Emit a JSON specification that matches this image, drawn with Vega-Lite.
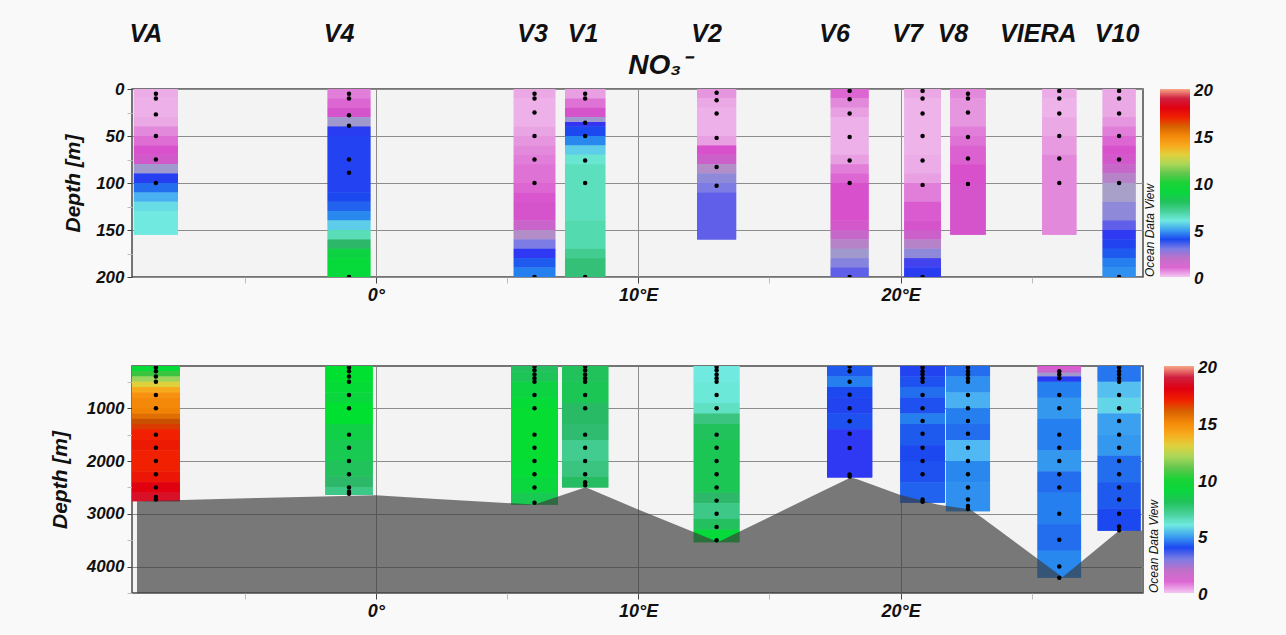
{
  "$schema": "https://vega.github.io/schema/vega-lite/v6.json",
  "background": "#f9f9f9",
  "padding": {"left": 48, "top": 21, "right": 80, "bottom": 14},
  "config": {
    "font": "Liberation Sans",
    "view": {"fill": "#f3f3f3", "stroke": "#4a4a4a", "strokeWidth": 1.5},
    "axis": {
      "domain": false,
      "labelOverlap": false,
      "labelFont": "Liberation Sans",
      "labelFontWeight": "bold",
      "labelFontStyle": "italic",
      "labelColor": "#111111",
      "titleFont": "Liberation Sans",
      "titleFontSize": 21,
      "titleFontWeight": "bold",
      "titleFontStyle": "italic",
      "titleColor": "#111111",
      "gridColor": "#8c8c8c",
      "gridWidth": 1
    },
    "legend": {
      "labelFont": "Liberation Sans",
      "labelFontSize": 17,
      "labelFontWeight": "bold",
      "labelFontStyle": "italic",
      "labelColor": "#111111",
      "labelOverlap": false,
      "titleFont": "Liberation Sans",
      "titleFontSize": 12,
      "titleFontWeight": "normal",
      "titleFontStyle": "italic",
      "titleColor": "#111111"
    }
  },
  "datasets": {
    "stations": [
      {"s": "VA", "lon": -8.38}, {"s": "V4", "lon": -1.02}, {"s": "V3", "lon": 6.05},
      {"s": "V1", "lon": 7.98}, {"s": "V2", "lon": 12.99}, {"s": "V6", "lon": 18.06},
      {"s": "V7", "lon": 20.84}, {"s": "V8", "lon": 22.57}, {"s": "VIERA", "lon": 26.05},
      {"s": "V10", "lon": 28.33}
    ],
    "top_cells": [
      {"s": "VA", "d0": 0, "d1": 10, "v": 0.35}, {"s": "VA", "d0": 10, "d1": 30, "v": 0.3},
      {"s": "VA", "d0": 30, "d1": 40, "v": 0.4}, {"s": "VA", "d0": 40, "d1": 50, "v": 0.7},
      {"s": "VA", "d0": 50, "d1": 60, "v": 0.95}, {"s": "VA", "d0": 60, "d1": 70, "v": 1.2},
      {"s": "VA", "d0": 70, "d1": 80, "v": 1.45}, {"s": "VA", "d0": 80, "d1": 90, "v": 2.6},
      {"s": "VA", "d0": 90, "d1": 100, "v": 3.8}, {"s": "VA", "d0": 100, "d1": 110, "v": 4.4},
      {"s": "VA", "d0": 110, "d1": 120, "v": 5.2}, {"s": "VA", "d0": 120, "d1": 130, "v": 5.8},
      {"s": "VA", "d0": 130, "d1": 155, "v": 6.0},

      {"s": "V4", "d0": 0, "d1": 10, "v": 0.8}, {"s": "V4", "d0": 10, "d1": 20, "v": 1.0},
      {"s": "V4", "d0": 20, "d1": 30, "v": 1.3}, {"s": "V4", "d0": 30, "d1": 40, "v": 2.6},
      {"s": "V4", "d0": 40, "d1": 50, "v": 3.7}, {"s": "V4", "d0": 50, "d1": 110, "v": 3.85},
      {"s": "V4", "d0": 110, "d1": 120, "v": 4.0}, {"s": "V4", "d0": 120, "d1": 130, "v": 4.3},
      {"s": "V4", "d0": 130, "d1": 140, "v": 4.7}, {"s": "V4", "d0": 140, "d1": 150, "v": 5.6},
      {"s": "V4", "d0": 150, "d1": 160, "v": 6.6}, {"s": "V4", "d0": 160, "d1": 170, "v": 7.6},
      {"s": "V4", "d0": 170, "d1": 180, "v": 8.8}, {"s": "V4", "d0": 180, "d1": 200, "v": 9.2},

      {"s": "V3", "d0": 0, "d1": 10, "v": 0.4}, {"s": "V3", "d0": 10, "d1": 40, "v": 0.3},
      {"s": "V3", "d0": 40, "d1": 50, "v": 0.45}, {"s": "V3", "d0": 50, "d1": 60, "v": 0.6},
      {"s": "V3", "d0": 60, "d1": 70, "v": 0.7}, {"s": "V3", "d0": 70, "d1": 80, "v": 0.8},
      {"s": "V3", "d0": 80, "d1": 100, "v": 0.9}, {"s": "V3", "d0": 100, "d1": 110, "v": 1.0},
      {"s": "V3", "d0": 110, "d1": 120, "v": 1.15}, {"s": "V3", "d0": 120, "d1": 140, "v": 1.3},
      {"s": "V3", "d0": 140, "d1": 150, "v": 1.7}, {"s": "V3", "d0": 150, "d1": 160, "v": 2.3},
      {"s": "V3", "d0": 160, "d1": 170, "v": 3.0}, {"s": "V3", "d0": 170, "d1": 180, "v": 3.6},
      {"s": "V3", "d0": 180, "d1": 190, "v": 4.2}, {"s": "V3", "d0": 190, "d1": 200, "v": 4.6},

      {"s": "V1", "d0": 0, "d1": 10, "v": 0.5}, {"s": "V1", "d0": 10, "d1": 20, "v": 0.9},
      {"s": "V1", "d0": 20, "d1": 30, "v": 1.3}, {"s": "V1", "d0": 30, "d1": 35, "v": 2.6},
      {"s": "V1", "d0": 35, "d1": 40, "v": 3.5}, {"s": "V1", "d0": 40, "d1": 50, "v": 4.0},
      {"s": "V1", "d0": 50, "d1": 60, "v": 4.7}, {"s": "V1", "d0": 60, "d1": 70, "v": 5.6},
      {"s": "V1", "d0": 70, "d1": 80, "v": 6.2}, {"s": "V1", "d0": 80, "d1": 140, "v": 6.5},
      {"s": "V1", "d0": 140, "d1": 170, "v": 6.7}, {"s": "V1", "d0": 170, "d1": 180, "v": 7.1},
      {"s": "V1", "d0": 180, "d1": 200, "v": 7.4},

      {"s": "V2", "d0": 0, "d1": 10, "v": 0.6}, {"s": "V2", "d0": 10, "d1": 20, "v": 0.4},
      {"s": "V2", "d0": 20, "d1": 50, "v": 0.3}, {"s": "V2", "d0": 50, "d1": 60, "v": 0.5},
      {"s": "V2", "d0": 60, "d1": 70, "v": 1.2}, {"s": "V2", "d0": 70, "d1": 80, "v": 1.6},
      {"s": "V2", "d0": 80, "d1": 90, "v": 2.3}, {"s": "V2", "d0": 90, "d1": 100, "v": 2.8},
      {"s": "V2", "d0": 100, "d1": 110, "v": 3.0}, {"s": "V2", "d0": 110, "d1": 160, "v": 3.2},

      {"s": "V6", "d0": 0, "d1": 10, "v": 1.0}, {"s": "V6", "d0": 10, "d1": 20, "v": 0.7},
      {"s": "V6", "d0": 20, "d1": 30, "v": 0.5}, {"s": "V6", "d0": 30, "d1": 70, "v": 0.3},
      {"s": "V6", "d0": 70, "d1": 80, "v": 0.5}, {"s": "V6", "d0": 80, "d1": 90, "v": 0.8},
      {"s": "V6", "d0": 90, "d1": 100, "v": 1.0}, {"s": "V6", "d0": 100, "d1": 140, "v": 1.2},
      {"s": "V6", "d0": 140, "d1": 150, "v": 1.4}, {"s": "V6", "d0": 150, "d1": 160, "v": 1.8},
      {"s": "V6", "d0": 160, "d1": 170, "v": 2.2}, {"s": "V6", "d0": 170, "d1": 180, "v": 2.6},
      {"s": "V6", "d0": 180, "d1": 190, "v": 2.9}, {"s": "V6", "d0": 190, "d1": 200, "v": 3.2},

      {"s": "V7", "d0": 0, "d1": 10, "v": 0.4}, {"s": "V7", "d0": 10, "d1": 70, "v": 0.25},
      {"s": "V7", "d0": 70, "d1": 90, "v": 0.35}, {"s": "V7", "d0": 90, "d1": 100, "v": 0.5},
      {"s": "V7", "d0": 100, "d1": 120, "v": 0.8}, {"s": "V7", "d0": 120, "d1": 140, "v": 1.1},
      {"s": "V7", "d0": 140, "d1": 150, "v": 1.3}, {"s": "V7", "d0": 150, "d1": 160, "v": 1.6},
      {"s": "V7", "d0": 160, "d1": 170, "v": 2.2}, {"s": "V7", "d0": 170, "d1": 180, "v": 2.8},
      {"s": "V7", "d0": 180, "d1": 190, "v": 3.4}, {"s": "V7", "d0": 190, "d1": 200, "v": 3.7},

      {"s": "V8", "d0": 0, "d1": 10, "v": 0.7}, {"s": "V8", "d0": 10, "d1": 40, "v": 0.6},
      {"s": "V8", "d0": 40, "d1": 50, "v": 0.8}, {"s": "V8", "d0": 50, "d1": 60, "v": 0.9},
      {"s": "V8", "d0": 60, "d1": 80, "v": 1.05}, {"s": "V8", "d0": 80, "d1": 100, "v": 1.2},
      {"s": "V8", "d0": 100, "d1": 155, "v": 1.3},

      {"s": "VIERA", "d0": 0, "d1": 10, "v": 0.35}, {"s": "VIERA", "d0": 10, "d1": 30, "v": 0.25},
      {"s": "VIERA", "d0": 30, "d1": 50, "v": 0.4}, {"s": "VIERA", "d0": 50, "d1": 70, "v": 0.55},
      {"s": "VIERA", "d0": 70, "d1": 155, "v": 0.7},

      {"s": "V10", "d0": 0, "d1": 30, "v": 0.4}, {"s": "V10", "d0": 30, "d1": 40, "v": 0.6},
      {"s": "V10", "d0": 40, "d1": 50, "v": 0.8}, {"s": "V10", "d0": 50, "d1": 60, "v": 1.0},
      {"s": "V10", "d0": 60, "d1": 70, "v": 1.2}, {"s": "V10", "d0": 70, "d1": 80, "v": 1.4},
      {"s": "V10", "d0": 80, "d1": 90, "v": 1.8}, {"s": "V10", "d0": 90, "d1": 100, "v": 2.2},
      {"s": "V10", "d0": 100, "d1": 120, "v": 2.5}, {"s": "V10", "d0": 120, "d1": 140, "v": 2.8},
      {"s": "V10", "d0": 140, "d1": 150, "v": 3.2}, {"s": "V10", "d0": 150, "d1": 160, "v": 3.6},
      {"s": "V10", "d0": 160, "d1": 170, "v": 3.9}, {"s": "V10", "d0": 170, "d1": 180, "v": 4.2},
      {"s": "V10", "d0": 180, "d1": 190, "v": 4.6}, {"s": "V10", "d0": 190, "d1": 200, "v": 4.8}
    ],
    "top_samples": [
      {"s": "VA", "d": 5}, {"s": "VA", "d": 10}, {"s": "VA", "d": 27}, {"s": "VA", "d": 50}, {"s": "VA", "d": 75}, {"s": "VA", "d": 100},
      {"s": "V4", "d": 5}, {"s": "V4", "d": 10}, {"s": "V4", "d": 28}, {"s": "V4", "d": 39}, {"s": "V4", "d": 75}, {"s": "V4", "d": 89}, {"s": "V4", "d": 200},
      {"s": "V3", "d": 5}, {"s": "V3", "d": 10}, {"s": "V3", "d": 25}, {"s": "V3", "d": 50}, {"s": "V3", "d": 75}, {"s": "V3", "d": 100}, {"s": "V3", "d": 200},
      {"s": "V1", "d": 5}, {"s": "V1", "d": 10}, {"s": "V1", "d": 36}, {"s": "V1", "d": 50}, {"s": "V1", "d": 76}, {"s": "V1", "d": 100}, {"s": "V1", "d": 200},
      {"s": "V2", "d": 4}, {"s": "V2", "d": 12}, {"s": "V2", "d": 26}, {"s": "V2", "d": 52}, {"s": "V2", "d": 83}, {"s": "V2", "d": 103},
      {"s": "V6", "d": 2}, {"s": "V6", "d": 11}, {"s": "V6", "d": 26}, {"s": "V6", "d": 51}, {"s": "V6", "d": 76}, {"s": "V6", "d": 100}, {"s": "V6", "d": 200},
      {"s": "V7", "d": 2}, {"s": "V7", "d": 10}, {"s": "V7", "d": 26}, {"s": "V7", "d": 50}, {"s": "V7", "d": 76}, {"s": "V7", "d": 102}, {"s": "V7", "d": 200},
      {"s": "V8", "d": 5}, {"s": "V8", "d": 10}, {"s": "V8", "d": 25}, {"s": "V8", "d": 51}, {"s": "V8", "d": 74}, {"s": "V8", "d": 101},
      {"s": "VIERA", "d": 2}, {"s": "VIERA", "d": 10}, {"s": "VIERA", "d": 26}, {"s": "VIERA", "d": 50}, {"s": "VIERA", "d": 74}, {"s": "VIERA", "d": 100},
      {"s": "V10", "d": 2}, {"s": "V10", "d": 10}, {"s": "V10", "d": 26}, {"s": "V10", "d": 50}, {"s": "V10", "d": 75}, {"s": "V10", "d": 100}, {"s": "V10", "d": 200}
    ],
    "deep_cells": [
      {"s": "VA", "d0": 200, "d1": 300, "v": 9.3}, {"s": "VA", "d0": 300, "d1": 400, "v": 10.5},
      {"s": "VA", "d0": 400, "d1": 500, "v": 11.8}, {"s": "VA", "d0": 500, "d1": 600, "v": 13.0},
      {"s": "VA", "d0": 600, "d1": 700, "v": 14.0}, {"s": "VA", "d0": 700, "d1": 800, "v": 14.6},
      {"s": "VA", "d0": 800, "d1": 1000, "v": 15.0}, {"s": "VA", "d0": 1000, "d1": 1100, "v": 15.3},
      {"s": "VA", "d0": 1100, "d1": 1200, "v": 15.8}, {"s": "VA", "d0": 1200, "d1": 1300, "v": 16.3},
      {"s": "VA", "d0": 1300, "d1": 1400, "v": 16.6}, {"s": "VA", "d0": 1400, "d1": 1600, "v": 17.0},
      {"s": "VA", "d0": 1600, "d1": 1800, "v": 17.2}, {"s": "VA", "d0": 1800, "d1": 2200, "v": 17.0},
      {"s": "VA", "d0": 2200, "d1": 2400, "v": 17.3}, {"s": "VA", "d0": 2400, "d1": 2600, "v": 18.0},
      {"s": "VA", "d0": 2600, "d1": 2760, "v": 18.5},

      {"s": "V4", "d0": 200, "d1": 500, "v": 9.6}, {"s": "V4", "d0": 500, "d1": 700, "v": 9.3},
      {"s": "V4", "d0": 700, "d1": 900, "v": 9.0}, {"s": "V4", "d0": 900, "d1": 1300, "v": 9.6},
      {"s": "V4", "d0": 1300, "d1": 1600, "v": 8.6}, {"s": "V4", "d0": 1600, "d1": 2000, "v": 8.3},
      {"s": "V4", "d0": 2000, "d1": 2300, "v": 8.0}, {"s": "V4", "d0": 2300, "d1": 2500, "v": 7.6},
      {"s": "V4", "d0": 2500, "d1": 2645, "v": 7.2},

      {"s": "V3", "d0": 200, "d1": 300, "v": 7.9}, {"s": "V3", "d0": 300, "d1": 500, "v": 8.1},
      {"s": "V3", "d0": 500, "d1": 800, "v": 8.8}, {"s": "V3", "d0": 800, "d1": 1000, "v": 9.3},
      {"s": "V3", "d0": 1000, "d1": 2000, "v": 9.7}, {"s": "V3", "d0": 2000, "d1": 2300, "v": 9.4},
      {"s": "V3", "d0": 2300, "d1": 2600, "v": 9.0}, {"s": "V3", "d0": 2600, "d1": 2830, "v": 8.3},

      {"s": "V1", "d0": 200, "d1": 500, "v": 8.0}, {"s": "V1", "d0": 500, "d1": 900, "v": 8.2},
      {"s": "V1", "d0": 900, "d1": 1300, "v": 7.7}, {"s": "V1", "d0": 1300, "d1": 1600, "v": 7.5},
      {"s": "V1", "d0": 1600, "d1": 2000, "v": 7.1}, {"s": "V1", "d0": 2000, "d1": 2300, "v": 7.3},
      {"s": "V1", "d0": 2300, "d1": 2500, "v": 7.8},

      {"s": "V2", "d0": 200, "d1": 500, "v": 6.0}, {"s": "V2", "d0": 500, "d1": 900, "v": 6.1},
      {"s": "V2", "d0": 900, "d1": 1100, "v": 6.4}, {"s": "V2", "d0": 1100, "d1": 1300, "v": 7.3},
      {"s": "V2", "d0": 1300, "d1": 1600, "v": 8.0}, {"s": "V2", "d0": 1600, "d1": 2600, "v": 8.2},
      {"s": "V2", "d0": 2600, "d1": 2800, "v": 7.6}, {"s": "V2", "d0": 2800, "d1": 3100, "v": 7.2},
      {"s": "V2", "d0": 3100, "d1": 3300, "v": 7.9}, {"s": "V2", "d0": 3300, "d1": 3540, "v": 9.2},

      {"s": "V6", "d0": 200, "d1": 400, "v": 4.2}, {"s": "V6", "d0": 400, "d1": 600, "v": 4.6},
      {"s": "V6", "d0": 600, "d1": 800, "v": 4.0}, {"s": "V6", "d0": 800, "d1": 1100, "v": 3.9},
      {"s": "V6", "d0": 1100, "d1": 1400, "v": 4.1}, {"s": "V6", "d0": 1400, "d1": 2310, "v": 3.6},

      {"s": "V7", "d0": 200, "d1": 400, "v": 3.9}, {"s": "V7", "d0": 400, "d1": 600, "v": 4.1},
      {"s": "V7", "d0": 600, "d1": 800, "v": 4.4}, {"s": "V7", "d0": 800, "d1": 1100, "v": 4.1},
      {"s": "V7", "d0": 1100, "d1": 1300, "v": 4.6}, {"s": "V7", "d0": 1300, "d1": 1700, "v": 4.2},
      {"s": "V7", "d0": 1700, "d1": 2000, "v": 4.0}, {"s": "V7", "d0": 2000, "d1": 2400, "v": 4.1},
      {"s": "V7", "d0": 2400, "d1": 2790, "v": 4.3},

      {"s": "V8", "d0": 200, "d1": 400, "v": 4.4}, {"s": "V8", "d0": 400, "d1": 700, "v": 4.8},
      {"s": "V8", "d0": 700, "d1": 1000, "v": 5.2}, {"s": "V8", "d0": 1000, "d1": 1300, "v": 4.6},
      {"s": "V8", "d0": 1300, "d1": 1600, "v": 4.4}, {"s": "V8", "d0": 1600, "d1": 2000, "v": 5.3},
      {"s": "V8", "d0": 2000, "d1": 2400, "v": 4.7}, {"s": "V8", "d0": 2400, "d1": 2950, "v": 4.8},

      {"s": "VIERA", "d0": 200, "d1": 270, "v": 1.1}, {"s": "VIERA", "d0": 270, "d1": 330, "v": 1.8},
      {"s": "VIERA", "d0": 330, "d1": 400, "v": 2.6}, {"s": "VIERA", "d0": 400, "d1": 500, "v": 3.7},
      {"s": "VIERA", "d0": 500, "d1": 800, "v": 4.6}, {"s": "VIERA", "d0": 800, "d1": 1200, "v": 4.9},
      {"s": "VIERA", "d0": 1200, "d1": 1800, "v": 4.6}, {"s": "VIERA", "d0": 1800, "d1": 2200, "v": 4.9},
      {"s": "VIERA", "d0": 2200, "d1": 2600, "v": 4.4}, {"s": "VIERA", "d0": 2600, "d1": 3200, "v": 4.6},
      {"s": "VIERA", "d0": 3200, "d1": 3700, "v": 4.4}, {"s": "VIERA", "d0": 3700, "d1": 4210, "v": 4.7},

      {"s": "V10", "d0": 200, "d1": 500, "v": 4.5}, {"s": "V10", "d0": 500, "d1": 800, "v": 5.4},
      {"s": "V10", "d0": 800, "d1": 1100, "v": 5.7}, {"s": "V10", "d0": 1100, "d1": 1500, "v": 5.0},
      {"s": "V10", "d0": 1500, "d1": 1900, "v": 4.9}, {"s": "V10", "d0": 1900, "d1": 2400, "v": 4.4},
      {"s": "V10", "d0": 2400, "d1": 2900, "v": 4.2}, {"s": "V10", "d0": 2900, "d1": 3320, "v": 4.0}
    ],
    "deep_samples": [
      {"s": "VA", "d": 230}, {"s": "VA", "d": 300}, {"s": "VA", "d": 400}, {"s": "VA", "d": 500}, {"s": "VA", "d": 750}, {"s": "VA", "d": 1000}, {"s": "VA", "d": 1500}, {"s": "VA", "d": 1750}, {"s": "VA", "d": 2000}, {"s": "VA", "d": 2250}, {"s": "VA", "d": 2500}, {"s": "VA", "d": 2680}, {"s": "VA", "d": 2730},
      {"s": "V4", "d": 230}, {"s": "V4", "d": 300}, {"s": "V4", "d": 400}, {"s": "V4", "d": 500}, {"s": "V4", "d": 750}, {"s": "V4", "d": 1000}, {"s": "V4", "d": 1500}, {"s": "V4", "d": 1750}, {"s": "V4", "d": 2000}, {"s": "V4", "d": 2250}, {"s": "V4", "d": 2500}, {"s": "V4", "d": 2580}, {"s": "V4", "d": 2620},
      {"s": "V3", "d": 210}, {"s": "V3", "d": 280}, {"s": "V3", "d": 360}, {"s": "V3", "d": 430}, {"s": "V3", "d": 500}, {"s": "V3", "d": 750}, {"s": "V3", "d": 1000}, {"s": "V3", "d": 1500}, {"s": "V3", "d": 1750}, {"s": "V3", "d": 2000}, {"s": "V3", "d": 2250}, {"s": "V3", "d": 2500}, {"s": "V3", "d": 2790},
      {"s": "V1", "d": 210}, {"s": "V1", "d": 280}, {"s": "V1", "d": 360}, {"s": "V1", "d": 430}, {"s": "V1", "d": 500}, {"s": "V1", "d": 750}, {"s": "V1", "d": 1000}, {"s": "V1", "d": 1500}, {"s": "V1", "d": 1750}, {"s": "V1", "d": 2000}, {"s": "V1", "d": 2250}, {"s": "V1", "d": 2400}, {"s": "V1", "d": 2460},
      {"s": "V2", "d": 220}, {"s": "V2", "d": 280}, {"s": "V2", "d": 360}, {"s": "V2", "d": 430}, {"s": "V2", "d": 500}, {"s": "V2", "d": 750}, {"s": "V2", "d": 1000}, {"s": "V2", "d": 1500}, {"s": "V2", "d": 1750}, {"s": "V2", "d": 2000}, {"s": "V2", "d": 2250}, {"s": "V2", "d": 2500}, {"s": "V2", "d": 2750}, {"s": "V2", "d": 3000}, {"s": "V2", "d": 3250}, {"s": "V2", "d": 3500},
      {"s": "V6", "d": 210}, {"s": "V6", "d": 300}, {"s": "V6", "d": 500}, {"s": "V6", "d": 745}, {"s": "V6", "d": 1000}, {"s": "V6", "d": 1245}, {"s": "V6", "d": 1485}, {"s": "V6", "d": 1755}, {"s": "V6", "d": 2255}, {"s": "V6", "d": 2295},
      {"s": "V7", "d": 230}, {"s": "V7", "d": 300}, {"s": "V7", "d": 360}, {"s": "V7", "d": 430}, {"s": "V7", "d": 500}, {"s": "V7", "d": 750}, {"s": "V7", "d": 1000}, {"s": "V7", "d": 1240}, {"s": "V7", "d": 1485}, {"s": "V7", "d": 1750}, {"s": "V7", "d": 2000}, {"s": "V7", "d": 2250}, {"s": "V7", "d": 2730}, {"s": "V7", "d": 2770},
      {"s": "V8", "d": 230}, {"s": "V8", "d": 300}, {"s": "V8", "d": 360}, {"s": "V8", "d": 430}, {"s": "V8", "d": 500}, {"s": "V8", "d": 750}, {"s": "V8", "d": 1000}, {"s": "V8", "d": 1240}, {"s": "V8", "d": 1485}, {"s": "V8", "d": 1750}, {"s": "V8", "d": 2000}, {"s": "V8", "d": 2250}, {"s": "V8", "d": 2500}, {"s": "V8", "d": 2730}, {"s": "V8", "d": 2850}, {"s": "V8", "d": 2910},
      {"s": "VIERA", "d": 300}, {"s": "VIERA", "d": 360}, {"s": "VIERA", "d": 430}, {"s": "VIERA", "d": 750}, {"s": "VIERA", "d": 1000}, {"s": "VIERA", "d": 1500}, {"s": "VIERA", "d": 1750}, {"s": "VIERA", "d": 2000}, {"s": "VIERA", "d": 2250}, {"s": "VIERA", "d": 2500}, {"s": "VIERA", "d": 3000}, {"s": "VIERA", "d": 3490}, {"s": "VIERA", "d": 4000}, {"s": "VIERA", "d": 4210},
      {"s": "V10", "d": 230}, {"s": "V10", "d": 300}, {"s": "V10", "d": 360}, {"s": "V10", "d": 430}, {"s": "V10", "d": 500}, {"s": "V10", "d": 750}, {"s": "V10", "d": 1000}, {"s": "V10", "d": 1240}, {"s": "V10", "d": 1500}, {"s": "V10", "d": 1750}, {"s": "V10", "d": 2000}, {"s": "V10", "d": 2250}, {"s": "V10", "d": 2500}, {"s": "V10", "d": 2730}, {"s": "V10", "d": 3000}, {"s": "V10", "d": 3240}, {"s": "V10", "d": 3310}
    ],
    "seafloor": [
      {"lon": -9.1, "depth": 2762}, {"lon": -4.5, "depth": 2700}, {"lon": 0.0, "depth": 2648},
      {"lon": 2.15, "depth": 2717}, {"lon": 6.05, "depth": 2824}, {"lon": 8.0, "depth": 2496},
      {"lon": 10.0, "depth": 2920}, {"lon": 13.05, "depth": 3535}, {"lon": 16.74, "depth": 2640},
      {"lon": 18.1, "depth": 2310}, {"lon": 18.38, "depth": 2350}, {"lon": 19.97, "depth": 2640},
      {"lon": 21.4, "depth": 2824}, {"lon": 22.66, "depth": 2920}, {"lon": 23.15, "depth": 3090},
      {"lon": 23.9, "depth": 3362}, {"lon": 26.17, "depth": 4200}, {"lon": 28.3, "depth": 3330},
      {"lon": 29.2, "depth": 3318}
    ]
  },
  "spacing": 60,
  "resolve": {"scale": {"x": "independent", "y": "independent", "color": "independent", "size": "independent"}},
  "vconcat": [
    {
      "width": 1011,
      "height": 188,
      "layer": [
        {
          "data": {"name": "top_cells"},
          "transform": [{"lookup": "s", "from": {"data": {"name": "stations"}, "key": "s", "fields": ["lon"]}}],
          "mark": {"type": "bar", "clip": true},
          "encoding": {
            "x": {
              "field": "lon", "type": "quantitative",
              "scale": {"domain": [-9.1, 29.05], "nice": false, "zero": false},
              "axis": {
                "title": null,
                "labelOverlap": false,
                "tickCount": 50,
                "values": [-5, 0, 5, 10, 15, 20, 25],
                "labelExpr": "datum.value % 10 == 0 ? (datum.value == 0 ? '0°' : datum.value + '°E') : ''",
                "labelFontSize": 18,
                "labelPadding": 3,
                "tickSize": 6,
                "tickColor": {"condition": {"test": "datum.value % 10 == 0", "value": "#444444"}, "value": "#bdbdbd"},
                "gridOpacity": {"condition": {"test": "datum.value % 10 == 0", "value": 1}, "value": 0}
              }
            },
            "y": {
              "field": "d0", "type": "quantitative",
              "scale": {"domain": [0, 200], "reverse": true, "nice": false, "zero": false},
              "axis": {
                "title": "Depth [m]",
                "titlePadding": 12,
                "labelOverlap": false,
                "tickCount": 50,
                "values": [0, 25, 50, 75, 100, 125, 150, 175, 200],
                "labelExpr": "datum.value % 50 == 0 ? datum.value : ''",
                "labelFontSize": 17,
                "labelPadding": 3,
                "tickSize": 5,
                "tickColor": {"condition": {"test": "datum.value % 50 == 0", "value": "#444444"}, "value": "#bdbdbd"},
                "gridOpacity": {"condition": {"test": "datum.value % 50 == 0", "value": 1}, "value": 0}
              }
            },
            "y2": {"field": "d1"},
            "size": {
              "field": "s", "type": "nominal", "legend": null,
              "scale": {
                "domain": ["VA", "V4", "V3", "V1", "V2", "V6", "V7", "V8", "VIERA", "V10"],
                "range": [44, 33, 36, 36, 35, 30, 26, 24, 19, 16]
              }
            },
            "color": {
              "field": "v", "type": "quantitative",
              "scale": {
                "domain": [0, 0.5, 1.2, 2.0, 2.5, 3.0, 3.5, 4.0, 4.7, 5.3, 6.0, 6.8, 7.6, 8.6, 9.6, 10.6, 11.6, 12.5, 13.5, 14.6, 15.5, 16.3, 17.0, 18.0, 19.0, 19.6, 20],
                "range": ["#f4c8f2", "#e8a0e2", "#d850cc", "#c070c8", "#a8a0c8", "#7c7ce4", "#3434f2", "#1c48f0", "#2888ee", "#50b8f2", "#70eae0", "#50d8a8", "#2cb868", "#10d048", "#00e030", "#40c040", "#90d060", "#c8e050", "#f8c028", "#f89010", "#f08000", "#c85000", "#f02000", "#e00010", "#d02040", "#e06060", "#f8a888"],
                "interpolate": "rgb"
              },
              "legend": {
                "type": "gradient",
                "title": "Ocean Data View",
                "values": [0, 5, 10, 15, 20],
                "direction": "vertical",
                "gradientLength": 188,
                "gradientThickness": 30,
                "gradientStrokeWidth": 0,
                "titleOrient": "left",
                "titleAngle": 270,
                "titleAnchor": "start",
                "titlePadding": 2,
                "labelOffset": 4,
                "offset": 1,
                "encode": {
                  "labels": {
                    "enter": {"baseline": {"value": "middle"}, "dy": {"value": 2}},
                    "update": {"baseline": {"value": "middle"}, "dy": {"value": 2}}
                  }
                }
              }
            }
          }
        },
        {
          "data": {"name": "top_cells"},
          "transform": [{"lookup": "s", "from": {"data": {"name": "stations"}, "key": "s", "fields": ["lon"]}}],
          "mark": {"type": "bar", "clip": true},
          "encoding": {
            "x": {"field": "lon", "type": "quantitative"},
            "y": {"field": "d0", "type": "quantitative"},
            "y2": {"field": "d1"},
            "size": {"field": "s", "type": "nominal", "legend": null},
            "color": {"field": "v", "type": "quantitative"}
          }
        },
        {
          "data": {"name": "top_samples"},
          "transform": [{"lookup": "s", "from": {"data": {"name": "stations"}, "key": "s", "fields": ["lon"]}}],
          "mark": {"type": "point", "filled": true, "color": "#000000", "opacity": 1, "size": 20, "clip": true},
          "encoding": {
            "x": {"field": "lon", "type": "quantitative"},
            "y": {"field": "d", "type": "quantitative"}
          }
        },
        {
          "data": {"name": "stations"},
          "transform": [{"filter": "indexof(['VA', 'V4', 'V2'], datum.s) >= 0"}],
          "mark": {"type": "text", "font": "Liberation Sans", "fontSize": 25, "fontWeight": "bold", "fontStyle": "italic", "color": "#111111", "align": "center", "baseline": "middle", "dx": -10},
          "encoding": {
            "x": {"field": "lon", "type": "quantitative"},
            "y": {"datum": -58},
            "text": {"field": "s"}
          }
        },
        {
          "data": {"name": "stations"},
          "transform": [{"filter": "indexof(['V3', 'V1', 'V10'], datum.s) >= 0"}],
          "mark": {"type": "text", "font": "Liberation Sans", "fontSize": 25, "fontWeight": "bold", "fontStyle": "italic", "color": "#111111", "align": "center", "baseline": "middle", "dx": -2},
          "encoding": {
            "x": {"field": "lon", "type": "quantitative"},
            "y": {"datum": -58},
            "text": {"field": "s"}
          }
        },
        {
          "data": {"name": "stations"},
          "transform": [{"filter": "indexof(['V6', 'V7', 'V8'], datum.s) >= 0"}],
          "mark": {"type": "text", "font": "Liberation Sans", "fontSize": 25, "fontWeight": "bold", "fontStyle": "italic", "color": "#111111", "align": "center", "baseline": "middle", "dx": -15},
          "encoding": {
            "x": {"field": "lon", "type": "quantitative"},
            "y": {"datum": -58},
            "text": {"field": "s"}
          }
        },
        {
          "data": {"name": "stations"},
          "transform": [{"filter": "datum.s == 'VIERA'"}],
          "mark": {"type": "text", "font": "Liberation Sans", "fontSize": 25, "fontWeight": "bold", "fontStyle": "italic", "color": "#111111", "align": "center", "baseline": "middle", "dx": -21},
          "encoding": {
            "x": {"field": "lon", "type": "quantitative"},
            "y": {"datum": -58},
            "text": {"field": "s"}
          }
        },
        {
          "data": {"values": [{"t": "NO₃⁻"}]},
          "mark": {"type": "text", "font": "Liberation Sans", "fontSize": 28, "fontWeight": "bold", "fontStyle": "italic", "color": "#111111", "align": "center", "baseline": "middle"},
          "encoding": {
            "x": {"datum": 10.8},
            "y": {"datum": -24},
            "text": {"field": "t"}
          }
        }
      ]
    },
    {
      "width": 1011,
      "height": 227,
      "layer": [
        {
          "data": {"name": "deep_cells"},
          "transform": [{"lookup": "s", "from": {"data": {"name": "stations"}, "key": "s", "fields": ["lon"]}}],
          "mark": {"type": "bar", "clip": true},
          "encoding": {
            "x": {
              "field": "lon", "type": "quantitative",
              "scale": {"domain": [-9.1, 29.05], "nice": false, "zero": false},
              "axis": {
                "title": null,
                "labelOverlap": false,
                "tickCount": 50,
                "values": [-5, 0, 5, 10, 15, 20, 25],
                "labelExpr": "datum.value % 10 == 0 ? (datum.value == 0 ? '0°' : datum.value + '°E') : ''",
                "labelFontSize": 18,
                "labelPadding": 3,
                "tickSize": 6,
                "tickColor": {"condition": {"test": "datum.value % 10 == 0", "value": "#444444"}, "value": "#bdbdbd"},
                "gridOpacity": {"condition": {"test": "datum.value % 10 == 0", "value": 1}, "value": 0}
              }
            },
            "y": {
              "field": "d0", "type": "quantitative",
              "scale": {"domain": [200, 4500], "reverse": true, "nice": false, "zero": false},
              "axis": {
                "title": "Depth [m]",
                "titlePadding": 16,
                "labelOverlap": false,
                "tickCount": 50,
                "values": [500, 1000, 1500, 2000, 2500, 3000, 3500, 4000, 4500],
                "labelExpr": "datum.value % 1000 == 0 ? datum.value : ''",
                "labelFontSize": 17,
                "labelPadding": 3,
                "tickSize": 5,
                "tickColor": {"condition": {"test": "datum.value % 1000 == 0", "value": "#444444"}, "value": "#bdbdbd"},
                "gridOpacity": {"condition": {"test": "datum.value % 1000 == 0", "value": 1}, "value": 0}
              }
            },
            "y2": {"field": "d1"},
            "size": {
              "field": "s", "type": "nominal", "legend": null,
              "scale": {
                "domain": ["VA", "V4", "V3", "V1", "V2", "V6", "V7", "V8", "VIERA", "V10"],
                "range": [48, 43, 45, 46, 42, 34, 32, 28, 22, 18]
              }
            },
            "color": {
              "field": "v", "type": "quantitative",
              "scale": {
                "domain": [0, 0.5, 1.2, 2.0, 2.5, 3.0, 3.5, 4.0, 4.7, 5.3, 6.0, 6.8, 7.6, 8.6, 9.6, 10.6, 11.6, 12.5, 13.5, 14.6, 15.5, 16.3, 17.0, 18.0, 19.0, 19.6, 20],
                "range": ["#f4c8f2", "#e8a0e2", "#d850cc", "#c070c8", "#a8a0c8", "#7c7ce4", "#3434f2", "#1c48f0", "#2888ee", "#50b8f2", "#70eae0", "#50d8a8", "#2cb868", "#10d048", "#00e030", "#40c040", "#90d060", "#c8e050", "#f8c028", "#f89010", "#f08000", "#c85000", "#f02000", "#e00010", "#d02040", "#e06060", "#f8a888"],
                "interpolate": "rgb"
              },
              "legend": {
                "type": "gradient",
                "title": "Ocean Data View",
                "values": [0, 5, 10, 15, 20],
                "direction": "vertical",
                "gradientLength": 227,
                "gradientThickness": 30,
                "gradientStrokeWidth": 0,
                "titleOrient": "left",
                "titleAngle": 270,
                "titleAnchor": "start",
                "titlePadding": 2,
                "labelOffset": 4,
                "offset": 5,
                "encode": {
                  "labels": {
                    "enter": {"baseline": {"value": "middle"}, "dy": {"value": 2}},
                    "update": {"baseline": {"value": "middle"}, "dy": {"value": 2}}
                  }
                }
              }
            }
          }
        },
        {
          "data": {"name": "deep_cells"},
          "transform": [{"lookup": "s", "from": {"data": {"name": "stations"}, "key": "s", "fields": ["lon"]}}],
          "mark": {"type": "bar", "clip": true},
          "encoding": {
            "x": {"field": "lon", "type": "quantitative"},
            "y": {"field": "d0", "type": "quantitative"},
            "y2": {"field": "d1"},
            "size": {"field": "s", "type": "nominal", "legend": null},
            "color": {"field": "v", "type": "quantitative"}
          }
        },
        {
          "data": {"name": "seafloor"},
          "mark": {"type": "area", "clip": true, "fill": "#3c3c3c", "fillOpacity": 0.672, "interpolate": "linear"},
          "encoding": {
            "x": {"field": "lon", "type": "quantitative"},
            "y": {"field": "depth", "type": "quantitative"},
            "y2": {"datum": 4500}
          }
        },
        {
          "data": {"name": "deep_samples"},
          "transform": [{"lookup": "s", "from": {"data": {"name": "stations"}, "key": "s", "fields": ["lon"]}}],
          "mark": {"type": "point", "filled": true, "color": "#000000", "opacity": 1, "size": 20, "clip": true},
          "encoding": {
            "x": {"field": "lon", "type": "quantitative"},
            "y": {"field": "d", "type": "quantitative"}
          }
        }
      ]
    }
  ]
}
